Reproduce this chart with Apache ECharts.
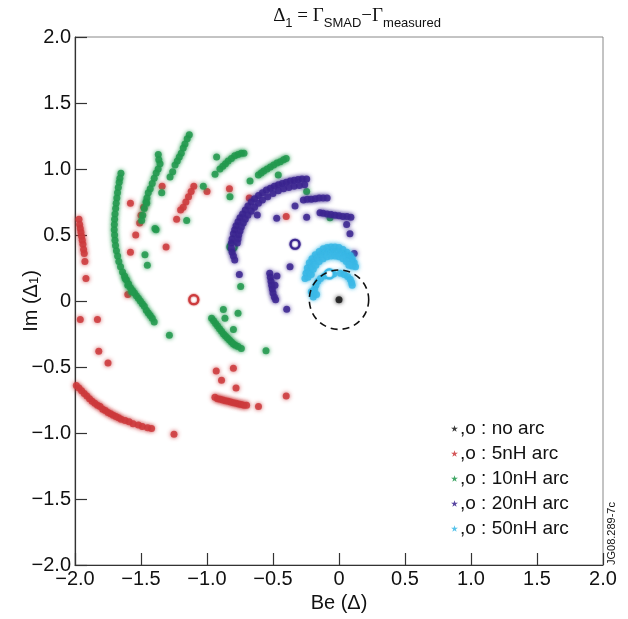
<!DOCTYPE html>
<html>
<head>
<meta charset="utf-8">
<script src="https://cdn.jsdelivr.net/npm/echarts@6/dist/echarts.min.js"></script>
<style>
  html, body { margin: 0; padding: 0; background: #fff; }
  #chart { width: 628px; height: 619px; }
</style>
</head>
<body>
<div id="chart"></div>
<script>
// Axis ticks (both axes share the same range)
const axisMin = -2, axisMax = 2, axisStep = 0.5;
const tickLabels = ['\u22122.0', '\u22121.5', '\u22121.0', '\u22120.5', '0', '0.5', '1.0', '1.5', '2.0'];

// Legend entries, in drawing order
const arcNames = ['no arc', '5nH arc', '10nH arc', '20nH arc', '50nH arc'];

// No arc: single point at the origin
const noArcStars = [[0, 0.01]];
const noArcCircles = [];

// 5 nH arc
const arc5Stars = [
  [-1.97, 0.62], [-1.965, 0.58], [-1.96, 0.55], [-1.955, 0.52], [-1.95, 0.49], [-1.945, 0.46],
  [-1.94, 0.43], [-1.935, 0.39], [-1.93, 0.36], [-1.925, 0.30], [-1.917, 0.17],
  [-1.96, -0.14], [-1.83, -0.14], [-1.82, -0.38], [-1.75, -0.47],
  [-1.99, -0.64], [-1.97, -0.66], [-1.95, -0.68], [-1.93, -0.70], [-1.91, -0.72], [-1.89, -0.74],
  [-1.87, -0.76], [-1.85, -0.775], [-1.83, -0.79], [-1.81, -0.80], [-1.79, -0.82], [-1.77, -0.83],
  [-1.75, -0.845], [-1.73, -0.855], [-1.71, -0.865], [-1.69, -0.875], [-1.67, -0.885], [-1.65, -0.895],
  [-1.62, -0.905], [-1.59, -0.915], [-1.56, -0.93], [-1.52, -0.94], [-1.49, -0.95], [-1.45, -0.96],
  [-1.42, -0.965], [-1.25, -1.01],
  [-1.60, 0.05], [-1.58, 0.74], [-1.48, 0.71], [-1.50, 0.65], [-1.51, 0.59], [-1.54, 0.50],
  [-1.58, 0.37], [-1.31, 0.41], [-1.34, 0.87],
  [-1.10, 0.87], [-1.12, 0.83], [-1.14, 0.79], [-1.16, 0.75], [-1.18, 0.71], [-1.20, 0.69],
  [-1.23, 0.62], [-1.00, 0.83], [-0.83, 0.85], [-0.68, 0.78], [-0.40, 0.64],
  [-0.93, -0.53], [-0.80, -0.51], [-0.89, -0.60], [-0.78, -0.66],
  [-0.94, -0.73], [-0.92, -0.74], [-0.90, -0.745], [-0.88, -0.75], [-0.86, -0.755], [-0.84, -0.76],
  [-0.82, -0.765], [-0.80, -0.77], [-0.78, -0.775], [-0.76, -0.78], [-0.74, -0.785], [-0.72, -0.79],
  [-0.70, -0.79], [-0.61, -0.80], [-0.40, -0.72]
];
const arc5Circles = [[-1.10, 0.01]];

// 10 nH arc
const arc10Stars = [
  [-1.652, 0.967], [-1.66, 0.93], [-1.665, 0.90], [-1.672, 0.86], [-1.678, 0.82], [-1.683, 0.78],
  [-1.688, 0.74], [-1.692, 0.70], [-1.697, 0.66], [-1.700, 0.62], [-1.702, 0.58], [-1.703, 0.54],
  [-1.700, 0.50], [-1.697, 0.46], [-1.693, 0.42], [-1.686, 0.38], [-1.677, 0.34], [-1.668, 0.30],
  [-1.655, 0.26], [-1.640, 0.22], [-1.625, 0.19], [-1.61, 0.16], [-1.595, 0.13], [-1.58, 0.10],
  [-1.565, 0.08], [-1.55, 0.06], [-1.535, 0.04], [-1.52, 0.02], [-1.505, 0.00], [-1.49, -0.02],
  [-1.475, -0.04], [-1.46, -0.07], [-1.445, -0.09], [-1.43, -0.11], [-1.415, -0.13], [-1.40, -0.16],
  [-1.62, 0.17], [-1.60, 0.12], [-1.57, 0.07],
  [-1.369, 1.11], [-1.365, 1.07], [-1.356, 1.04], [-1.37, 1.00], [-1.385, 0.97], [-1.40, 0.93],
  [-1.415, 0.89], [-1.43, 0.85], [-1.445, 0.82], [-1.455, 0.78], [-1.462, 0.75], [-1.475, 0.70],
  [-1.487, 0.65], [-1.495, 0.61],
  [-1.134, 1.26], [-1.15, 1.23], [-1.167, 1.19], [-1.18, 1.16], [-1.195, 1.12], [-1.21, 1.09],
  [-1.225, 1.06], [-1.242, 1.03], [-1.26, 0.98], [-1.28, 0.94],
  [-1.343, 0.82], [-1.457, 0.74], [-1.386, 0.54], [-1.154, 0.61], [-1.47, 0.35], [-1.452, 0.27],
  [-1.028, 0.87], [-0.927, 1.09], [-0.939, 0.96], [-0.674, 0.91], [-0.826, 0.79], [-0.245, 0.83],
  [-0.068, 0.63], [-0.745, 0.11], [-1.285, -0.26], [-1.394, 0.55],
  [-0.902, 1.00], [-0.88, 1.02], [-0.86, 1.04], [-0.84, 1.06], [-0.815, 1.08], [-0.79, 1.10],
  [-0.765, 1.11], [-0.74, 1.12], [-0.72, 1.12],
  [-0.611, 0.955], [-0.59, 0.97], [-0.57, 0.985], [-0.545, 1.00], [-0.52, 1.015], [-0.495, 1.03],
  [-0.47, 1.045], [-0.445, 1.055], [-0.42, 1.07], [-0.40, 1.08], [-0.46, 0.955],
  [-0.876, -0.065], [-0.765, -0.093], [-0.864, -0.131], [-0.80, -0.215],
  [-0.965, -0.13], [-0.95, -0.15], [-0.935, -0.17], [-0.92, -0.19], [-0.905, -0.21], [-0.89, -0.23],
  [-0.875, -0.25], [-0.86, -0.265], [-0.845, -0.28], [-0.83, -0.295], [-0.815, -0.31], [-0.80, -0.325],
  [-0.785, -0.335], [-0.765, -0.345], [-0.74, -0.36], [-0.553, -0.376]
];
const arc10Circles = [[-0.81, 0.41]];

// 20 nH arc
const arc20Stars = [
  [-0.245, 0.925], [-0.28, 0.925], [-0.31, 0.92], [-0.34, 0.915], [-0.37, 0.91], [-0.40, 0.90],
  [-0.43, 0.89], [-0.46, 0.88], [-0.49, 0.87], [-0.52, 0.855], [-0.55, 0.84], [-0.58, 0.82],
  [-0.61, 0.80], [-0.64, 0.775], [-0.665, 0.75], [-0.69, 0.72], [-0.71, 0.69], [-0.73, 0.66],
  [-0.75, 0.63], [-0.765, 0.60], [-0.78, 0.57], [-0.79, 0.54], [-0.80, 0.51], [-0.81, 0.47],
  [-0.815, 0.44], [-0.815, 0.40], [-0.81, 0.37], [-0.80, 0.34], [-0.79, 0.31],
  [-0.26, 0.88], [-0.30, 0.875], [-0.34, 0.87], [-0.38, 0.86], [-0.42, 0.85], [-0.46, 0.835],
  [-0.50, 0.815], [-0.54, 0.79], [-0.58, 0.765], [-0.61, 0.74], [-0.64, 0.71], [-0.665, 0.68],
  [-0.69, 0.65], [-0.71, 0.62], [-0.725, 0.59], [-0.74, 0.56], [-0.75, 0.53], [-0.76, 0.50],
  [-0.765, 0.47], [-0.77, 0.44],
  [-0.755, 0.20],
  [-0.27, 0.765], [-0.24, 0.77], [-0.21, 0.77], [-0.18, 0.775], [-0.15, 0.78], [-0.12, 0.78], [-0.09, 0.78],
  [-0.333, 0.72],
  [-0.144, 0.669], [-0.12, 0.665], [-0.09, 0.66], [-0.06, 0.655], [-0.03, 0.65], [0.00, 0.645],
  [0.03, 0.64], [0.06, 0.64], [0.09, 0.635],
  [-0.245, 0.634], [-0.472, 0.626], [-0.619, 0.652], [0.058, 0.58], [0.083, 0.51], [0.115, 0.36],
  [-0.371, 0.26], [-0.396, -0.063],
  [-0.525, 0.21], [-0.52, 0.18], [-0.515, 0.15], [-0.51, 0.12], [-0.505, 0.09], [-0.50, 0.06],
  [-0.49, 0.03], [-0.48, 0.01], [-0.47, 0.19], [-0.485, 0.12]
];
const arc20Circles = [[-0.333, 0.43]];

// 50 nH arc
const arc50Stars = [
  [-0.258, 0.17], [-0.25, 0.21], [-0.24, 0.25], [-0.225, 0.29], [-0.205, 0.32], [-0.18, 0.35],
  [-0.15, 0.375], [-0.12, 0.395], [-0.09, 0.405], [-0.06, 0.41], [-0.03, 0.41], [0.0, 0.405],
  [0.03, 0.39], [0.06, 0.37], [0.085, 0.345], [0.10, 0.32], [0.115, 0.29], [0.125, 0.26],
  [-0.235, 0.18], [-0.225, 0.22], [-0.21, 0.26], [-0.19, 0.295], [-0.165, 0.325], [-0.135, 0.35],
  [-0.105, 0.365], [-0.075, 0.375], [-0.045, 0.375], [-0.015, 0.37], [0.015, 0.36], [0.045, 0.345],
  [0.07, 0.32], [0.09, 0.295], [0.10, 0.265],
  [-0.21, 0.20], [-0.195, 0.24], [-0.175, 0.27], [-0.15, 0.30], [-0.12, 0.32], [-0.09, 0.335],
  [-0.06, 0.34], [-0.03, 0.34], [0.0, 0.335], [0.03, 0.32], [0.055, 0.30], [0.075, 0.27],
  [-0.195, 0.03], [-0.19, 0.06], [-0.185, 0.09], [-0.175, 0.12], [-0.16, 0.15], [-0.14, 0.17],
  [-0.11, 0.19], [-0.04, 0.205], [0.01, 0.21], [0.04, 0.20], [0.065, 0.185], [0.085, 0.165],
  [0.095, 0.14], [0.10, 0.12], [-0.21, 0.07], [-0.17, 0.05]
];
const arc50Circles = [[-0.073, 0.205]];

// Dashed ring around the origin: [centre x, centre y, radius]
const ringData = [[0, 0.01, 0.225]];

const colors = ['#1a1a1a', '#cc3a3c', '#22994d', '#3c2690', '#3bb8e6'];
const starGroups = [noArcStars, arc5Stars, arc10Stars, arc20Stars, arc50Stars];
const circleGroups = [noArcCircles, arc5Circles, arc10Circles, arc20Circles, arc50Circles];

const starPath = 'path://M50,0 L61,35 L98,35 L68,57 L79,91 L50,70 L21,91 L32,57 L2,35 L39,35 Z';

const chart = echarts.init(document.getElementById('chart'), null, { renderer: 'canvas' });

const scatterSeries = arcNames.map((name, i) => ({
  name: name,
  type: 'scatter',
  symbol: 'circle',
  symbolSize: 7,
  itemStyle: {
    color: colors[i],
    opacity: 0.85,
    shadowBlur: 4,
    shadowColor: colors[i]
  },
  emphasis: { disabled: true },
  data: starGroups[i].map(p => p.slice()).concat(
    circleGroups[i].map(p => ({
      value: p.slice(),
      symbol: 'circle',
      symbolSize: 9,
      itemStyle: { color: '#ffffff', borderColor: colors[i], borderWidth: 2.2, opacity: 1, shadowBlur: 2 }
    }))
  ),
  z: 3 + i
}));

const ringSeries = {
  type: 'custom',
  silent: true,
  data: ringData,
  renderItem: function (params, api) {
    const c = api.coord([api.value(0), api.value(1)]);
    const r = api.size([api.value(2), 0])[0];
    return {
      type: 'circle',
      shape: { cx: c[0], cy: c[1], r: r },
      style: { fill: 'none', stroke: '#111', lineWidth: 1.6, lineDash: [7, 5] }
    };
  },
  z: 10
};

const tickFmt = v => tickLabels[Math.round((v - axisMin) / axisStep)];

chart.setOption({
  animation: false,
  backgroundColor: '#ffffff',
  title: {
    text: '{m|\u0394}{s|1}{m| = \u0393}{s|SMAD}{m|\u2212\u0393}{s|measured}',
    left: 352,
    textAlign: 'center',
    top: 2,
    textStyle: {
      fontWeight: 'normal',
      rich: {
        m: { fontFamily: 'Liberation Serif', fontSize: 19, fontWeight: 'normal', color: '#111', verticalAlign: 'bottom', padding: [0, 0, 4, 0] },
        s: { fontFamily: 'Liberation Sans', fontSize: 13, fontWeight: 'normal', color: '#111', verticalAlign: 'bottom' }
      }
    }
  },
  grid: {
    left: 75, right: 25, top: 37, bottom: 54,
    outerBoundsMode: 'none',
    containLabel: false,
    show: true, borderColor: '#888', borderWidth: 1
  },
  xAxis: {
    type: 'value',
    min: axisMin, max: axisMax, interval: axisStep,
    name: 'Be (\u0394)',
    nameLocation: 'middle',
    nameGap: 28,
    nameMoveOverlap: false,
    nameTextStyle: { fontFamily: 'Liberation Sans', fontSize: 20, color: '#111' },
    axisLine: { onZero: false, lineStyle: { color: '#333', width: 1.2 } },
    axisTick: { inside: true, length: 12, lineStyle: { color: '#333', width: 1.2 } },
    axisLabel: { formatter: tickFmt, fontFamily: 'Liberation Sans', fontSize: 20, color: '#111', margin: 4 },
    splitLine: { show: false }
  },
  yAxis: {
    type: 'value',
    min: axisMin, max: axisMax, interval: axisStep,
    name: 'Im (\u0394{s|1})',
    nameLocation: 'middle',
    nameGap: 34,
    nameRotate: 90,
    nameMoveOverlap: false,
    nameTextStyle: {
      fontFamily: 'Liberation Sans', fontSize: 20, color: '#111',
      rich: { s: { fontFamily: 'Liberation Sans', fontSize: 13, color: '#111', verticalAlign: 'bottom' } }
    },
    axisLine: { onZero: false, lineStyle: { color: '#333', width: 1.2 } },
    axisTick: { inside: true, length: 12, lineStyle: { color: '#333', width: 1.2 } },
    axisLabel: { formatter: tickFmt, fontFamily: 'Liberation Sans', fontSize: 20, color: '#111', margin: 4 },
    splitLine: { show: false }
  },
  legend: {
    data: arcNames,
    orient: 'vertical',
    left: 446,
    top: 414,
    itemGap: 6,
    icon: starPath,
    itemWidth: 7,
    itemHeight: 7,
    selectedMode: false,
    formatter: ',o : {name}',
    textStyle: { fontFamily: 'Liberation Sans', fontSize: 19, color: '#111', padding: [0, 0, 0, -3] }
  },
  graphic: [{
    type: 'text',
    x: 617,
    y: 565,
    rotation: Math.PI / 2,
    style: { text: 'JG08.289-7c', fontFamily: 'Liberation Sans', fontSize: 11, fill: '#111', textAlign: 'left', textVerticalAlign: 'bottom' }
  }],
  series: scatterSeries.concat([ringSeries])
});
</script>
</body>
</html>
